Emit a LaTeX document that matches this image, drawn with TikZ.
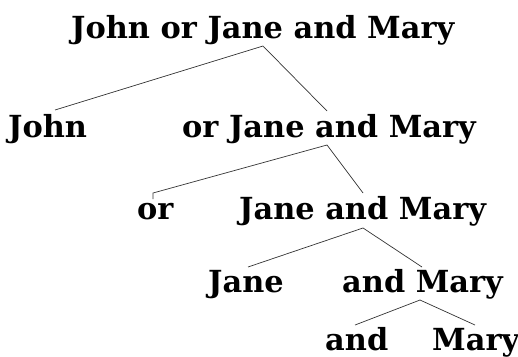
\documentclass[tikz,border=0pt]{standalone}
\usepackage{fontspec}
\setmainfont{DejaVu Serif}
\begin{document}
\begin{tikzpicture}[x=1pt,y=-1pt,
  word/.style={anchor=base west,inner sep=0pt,font=\fontsize{30.4}{36}\selectfont\bfseries},
  branch/.style={draw=black!80,line width=0.7pt}]
\useasboundingbox (0,0) rectangle (518,356);
% level 0
\node[word] (n0) at (71,38) {John or Jane and Mary};
% level 1
\node[word] (n1a) at (8,137) {John};
\node[word] (n1b) at (182,137) {or Jane and Mary};
% level 2
\node[word] (n2a) at (137,219) {or};
\node[word] (n2b) at (239,219) {Jane and Mary};
% level 3
\node[word] (n3a) at (208,292) {Jane};
\node[word] (n3b) at (342,292) {and Mary};
% level 4
\node[word] (n4a) at (325,350) {and};
\node[word] (n4b) at (432,350) {Mary};
% branch points
\coordinate (p0) at (263,46);
\coordinate (l0) at (55,110);
\coordinate (r0) at (327,111);
\coordinate (p1) at (327,145);
\coordinate (l1) at (153,193);
\coordinate (l1t) at (153,199);
\coordinate (r1) at (363,193);
\coordinate (p2) at (363,228);
\coordinate (l2) at (248,267);
\coordinate (r2) at (422,267);
\coordinate (p3) at (420,300);
\coordinate (l3) at (355,325);
\coordinate (r3) at (475,325);
\draw[branch] (l0) -- (p0) -- (r0);
\draw[branch] (l1t) -- (l1) -- (p1) -- (r1);
\draw[branch] (l2) -- (p2) -- (r2);
\draw[branch] (l3) -- (p3) -- (r3);
\end{tikzpicture}
\end{document}
